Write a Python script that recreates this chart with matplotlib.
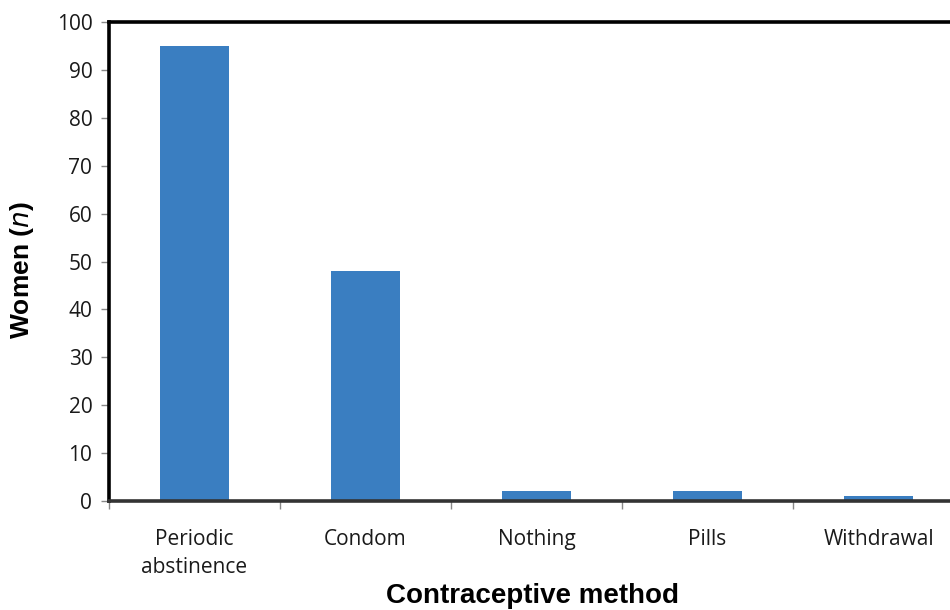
import matplotlib

matplotlib.use("Agg")

import matplotlib.pyplot as plt
import numpy as np

methods = ["Periodic\nabstinence", "Condom", "Nothing", "Pills", "Withdrawal"]
women = [95, 48, 2, 2, 1]
y_ticks = [0, 10, 20, 30, 40, 50, 60, 70, 80, 90, 100]

BAR = "#3a7ec1"
W, H = 950, 610

fig = plt.figure(figsize=(9.5, 6.1), dpi=100)
# axes runs past the right edge, as in the reference
left, right, top, bottom = 109, 964, 22, 501
ax = fig.add_axes([left / W, 1 - bottom / H, (right - left) / W, (bottom - top) / H])

x = np.arange(len(methods))
ax.bar(x, women, width=0.4, color=BAR, zorder=2)

ax.set_xlim(-0.5, len(methods) - 0.5)
ax.set_ylim(0, 100)
ax.set_yticks(y_ticks)
ax.set_yticklabels([str(v) for v in y_ticks], fontsize=15, family="Open Sans", color="#1a1a1a")

ax.set_xticks(x)
ax.set_xticklabels(methods, fontsize=15, family="Open Sans", color="#1a1a1a", linespacing=1.45)
ax.set_xticks(np.arange(len(methods)) - 0.5, minor=True)
ax.tick_params(axis="x", which="major", length=0, pad=20)
ax.tick_params(axis="x", which="minor", length=6, width=1, color="#888888")
ax.tick_params(axis="y", length=6, width=1, color="#888888", pad=6)

for side in ["left", "top"]:
    ax.spines[side].set_linewidth(2.6)
    ax.spines[side].set_color("black")
ax.spines["bottom"].set_linewidth(2.6)
ax.spines["bottom"].set_color("#333333")
ax.spines["right"].set_visible(False)

fig.text(22 / W, 1 - 270 / H, "Women ($\\mathbf{\\it{n}}$)", rotation=90, ha="center", va="center",
         fontsize=19, fontweight="bold", family="Liberation Sans")
fig.text(533 / W, 1 - 596 / H, "Contraceptive method", ha="center", va="center",
         fontsize=20, fontweight="bold", family="Liberation Sans")

fig.savefig("out.png", dpi=100, facecolor="white")
